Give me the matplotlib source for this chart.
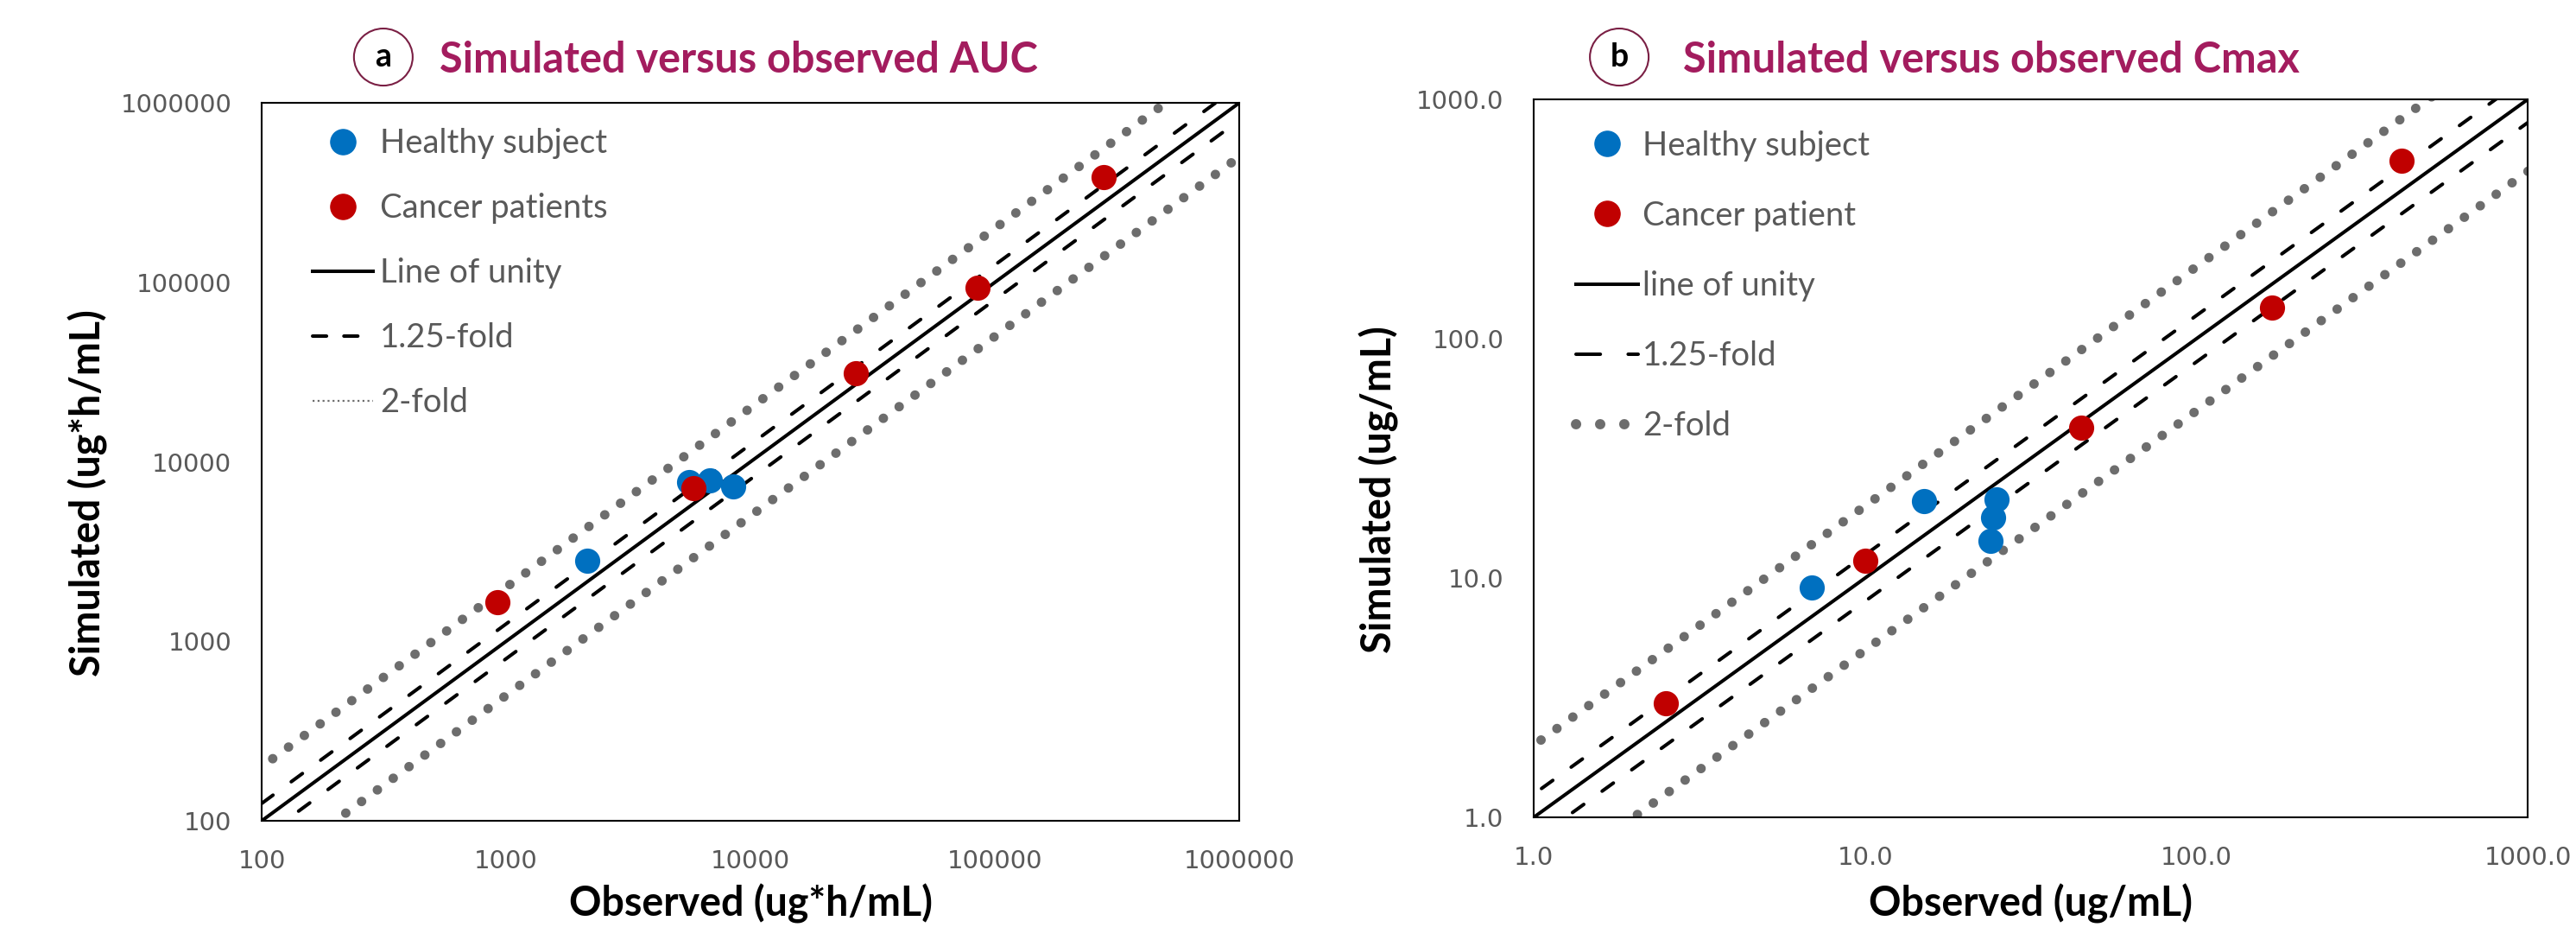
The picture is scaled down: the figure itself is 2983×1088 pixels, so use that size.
import matplotlib
matplotlib.use("Agg")
import matplotlib.pyplot as plt
import numpy as np
from matplotlib.lines import Line2D
from matplotlib.patches import Ellipse
from matplotlib.ticker import FixedLocator, FuncFormatter, NullLocator

# AUC panel (ug*h/mL)
auc_healthy_obs = [2150, 5600, 6800, 8500]
auc_healthy_sim = [2800, 7700, 7900, 7300]
auc_cancer_obs = [920, 5850, 27000, 85000, 279000]
auc_cancer_sim = [1660, 7100, 31000, 93000, 385000]
auc_ticks = [100, 1000, 10000, 100000, 1000000]

# Cmax panel (ug/mL)
cmax_healthy_obs = [6.9, 15.1, 24.9, 24.3, 23.9]
cmax_healthy_sim = [9.1, 20.9, 21.3, 17.9, 14.3]
cmax_cancer_obs = [2.5, 10.0, 45.0, 169.0, 416.0]
cmax_cancer_sim = [3.0, 11.8, 42.5, 135.0, 554.0]
cmax_ticks = [1.0, 10.0, 100.0, 1000.0]

BLUE = "#0070C0"
RED = "#C00000"
DOT_GRAY = "#6d6d6d"
TXT_GRAY = "#595959"
TITLE_COL = "#A31C5E"
FONT = "Lato"
MS = 21

fig = plt.figure(figsize=(29.83, 10.88), dpi=100)


def draw_panel(ax, h_obs, h_sim, c_obs, c_sim, ticks, fmt):
    lo, hi = ticks[0], ticks[-1]
    ax.set_xscale("log")
    ax.set_yscale("log")
    xs = np.array([lo / 4, hi * 4])

    # unity, 1.25-fold and 2-fold lines
    ax.plot(xs, xs, color="black", lw=2.9, zorder=2)
    for f in (1.25, 1 / 1.25):
        ax.plot(xs, xs * f, color="black", lw=2.9, dashes=(4, 6.5),
                dash_capstyle="round", zorder=2)
    for f in (2, 0.5):
        ax.plot(xs, xs * f, color=DOT_GRAY, lw=7.9, dashes=(0.01, 2.06),
                dash_capstyle="round", zorder=2)

    ax.scatter(h_obs, h_sim, s=MS ** 2, color=BLUE, linewidths=0, zorder=3)
    ax.scatter(c_obs, c_sim, s=MS ** 2, color=RED, linewidths=0, zorder=4)

    ax.set_xlim(lo, hi)
    ax.set_ylim(lo, hi)
    for axis in (ax.xaxis, ax.yaxis):
        axis.set_major_locator(FixedLocator(ticks))
        axis.set_minor_locator(NullLocator())
        axis.set_major_formatter(FuncFormatter(fmt))
    ax.tick_params(length=0, labelsize=21, labelcolor=TXT_GRAY)
    ax.tick_params(axis="y", pad=25)
    ax.tick_params(axis="x", pad=24)
    for sp in ax.spines.values():
        sp.set_linewidth(1.5)
        sp.set_color("black")


# ---- panel a ----
ax1 = fig.add_axes([0.1016, 0.1268, 0.3795, 0.7638])
draw_panel(ax1, auc_healthy_obs, auc_healthy_sim, auc_cancer_obs, auc_cancer_sim,
           auc_ticks, lambda v, p: f"{v:.0f}")
ax1.set_xlabel("Observed (ug*h/mL)", fontsize=33.5, fontweight="bold", family=FONT)
ax1.set_ylabel("Simulated (ug*h/mL)", fontsize=33.5, fontweight="bold", family=FONT)
ax1.xaxis.set_label_coords(0.5, -0.088)
ax1.yaxis.set_label_coords(-0.157, 0.457)

leg1_handles = [
    Line2D([], [], ls="none", marker="o", ms=MS, mfc=BLUE, mec=BLUE),
    Line2D([], [], ls="none", marker="o", ms=MS, mfc=RED, mec=RED),
    Line2D([], [], color="black", lw=2.9),
    Line2D([], [], color="black", lw=2.9, dashes=(4, 5), dash_capstyle="round"),
    Line2D([], [], color=DOT_GRAY, lw=1.6, dashes=(1, 1.6)),
]
leg1_labels = ["Healthy subject", "Cancer patients", "Line of unity", "1.25-fold", "2-fold"]
ax1.legend(leg1_handles, leg1_labels, loc="upper left", bbox_to_anchor=(0.052, 0.965),
           frameon=False, borderpad=0, borderaxespad=0, handlelength=1.83,
           handletextpad=0.22, labelspacing=1.02, labelcolor=TXT_GRAY,
           prop={"family": FONT, "size": 27.5})

# ---- panel b ----
ax2 = fig.add_axes([0.5954, 0.1305, 0.3859, 0.7638])
draw_panel(ax2, cmax_healthy_obs, cmax_healthy_sim, cmax_cancer_obs, cmax_cancer_sim,
           cmax_ticks, lambda v, p: f"{v:.1f}")
ax2.set_xlabel("Observed (ug/mL)", fontsize=33.5, fontweight="bold", family=FONT)
ax2.set_ylabel("Simulated (ug/mL)", fontsize=33.5, fontweight="bold", family=FONT)
ax2.xaxis.set_label_coords(0.5, -0.093)
ax2.yaxis.set_label_coords(-0.1355, 0.457)

leg2_handles = [
    Line2D([], [], ls="none", marker="o", ms=MS, mfc=BLUE, mec=BLUE),
    Line2D([], [], ls="none", marker="o", ms=MS, mfc=RED, mec=RED),
    Line2D([], [], color="black", lw=2.9),
    Line2D([], [], color="black", lw=2.9, dashes=(7, 8), dash_capstyle="round"),
    Line2D([], [], color=DOT_GRAY, lw=8.6, dashes=(0.01, 2.33), dash_capstyle="round"),
]
leg2_labels = ["Healthy subject", "Cancer patient", "line of unity", "1.25-fold", "2-fold"]
ax2.legend(leg2_handles, leg2_labels, loc="upper left", bbox_to_anchor=(0.0426, 0.957),
           frameon=False, borderpad=0, borderaxespad=0, handlelength=1.88,
           handletextpad=0.14, labelspacing=1.18, labelcolor=TXT_GRAY,
           prop={"family": FONT, "size": 27.5})

# ---- panel titles with circled letters ----
for cx, letter, tx, title in [
    (0.1488, "a", 0.1706, "Simulated versus observed AUC"),
    (0.6286, "b", 0.6534, "Simulated versus observed Cmax"),
]:
    fig.patches.append(Ellipse((cx, 0.9393), 0.0228, 0.0607, transform=fig.transFigure,
                               fill=False, ec="#7A1F44", lw=1.5))
    fig.text(cx, 0.9393, letter, ha="center", va="center", fontsize=27,
             fontweight="bold", family=FONT, color="black")
    fig.text(tx, 0.9357, title, ha="left", va="center", fontsize=35,
             fontweight="bold", family=FONT, color=TITLE_COL)

fig.savefig("out.png", dpi=100)
